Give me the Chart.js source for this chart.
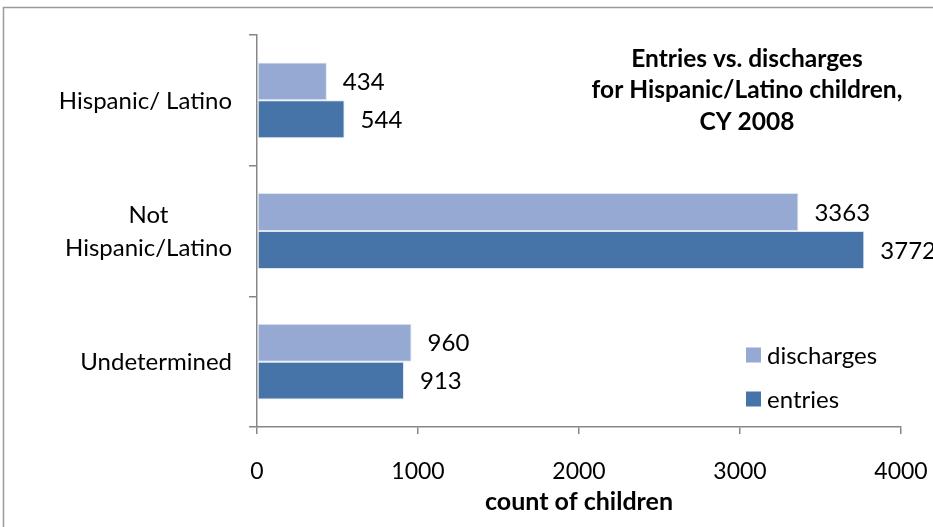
<!DOCTYPE html>
<html>
<head>
<meta charset="utf-8">
<script src="https://cdn.jsdelivr.net/npm/chart.js@4.4.1/dist/chart.umd.min.js"></script>
<style>
  html, body { margin: 0; padding: 0; background: #fff; }
  #wrap { width: 933px; height: 527px; position: relative; }
</style>
</head>
<body>
<div id="wrap"><canvas id="chart" width="933" height="527"></canvas></div>
<script>
const categories = [['Hispanic/ Latino'], ['Not', 'Hispanic/Latino'], ['Undetermined']];
const discharges = [434, 3363, 960];
const entries = [544, 3772, 913];
const xTicks = [0, 1000, 2000, 3000, 4000];
const titleLines = ['Entries vs. discharges', 'for Hispanic/Latino children,', 'CY 2008'];

const FONT = 'Lato, "Open Sans", sans-serif';
const axisGray = '#878787';

// value labels at the end of each bar
const valueLabels = {
  id: 'valueLabels',
  afterDatasetsDraw(chart) {
    const ctx = chart.ctx;
    ctx.save();
    ctx.font = '24px ' + FONT;
    ctx.fillStyle = '#000';
    ctx.textBaseline = 'middle';
    ctx.textAlign = 'left';
    chart.data.datasets.forEach((ds, i) => {
      chart.getDatasetMeta(i).data.forEach((bar, j) => {
        ctx.fillText(ds.data[j], bar.x + 16, bar.y + 1);
      });
    });
    ctx.restore();
  }
};

// category labels: block right aligned to the axis, lines centred inside the block (like Excel)
const categoryLabels = {
  id: 'categoryLabels',
  afterDraw(chart) {
    const ctx = chart.ctx;
    const scale = chart.scales.y;
    ctx.save();
    ctx.font = '24px ' + FONT;
    ctx.fillStyle = '#000';
    ctx.textAlign = 'center';
    ctx.textBaseline = 'middle';
    const right = scale.right - 25;
    const lineH = 33;
    chart.data.labels.forEach((lines, i) => {
      const y = scale.getPixelForTick(i);
      const w = Math.max(...lines.map(l => ctx.measureText(l).width));
      const cx = right - w / 2;
      const y0 = y - (lines.length - 1) * lineH / 2 + 1;
      lines.forEach((l, k) => ctx.fillText(l, cx, y0 + k * lineH));
    });
    ctx.restore();
  }
};

// title, legend and outer frame drawn inside the plot like the original
const decorations = {
  id: 'decorations',
  afterDraw(chart) {
    const ctx = chart.ctx;
    ctx.save();
    ctx.strokeStyle = '#9a9a9a';
    ctx.lineWidth = 1.5;
    ctx.strokeRect(3.5, 7.5, 1000, 1000);

    ctx.font = 'bold 24.5px ' + FONT;
    ctx.fillStyle = '#000';
    ctx.textAlign = 'center';
    ctx.textBaseline = 'middle';
    titleLines.forEach((t, i) => ctx.fillText(t, 747, 59 + i * 31.5));

    ctx.font = '24px ' + FONT;
    ctx.textAlign = 'left';
    chart.data.datasets.forEach((ds, i) => {
      const y = 355 + i * 44;
      ctx.fillStyle = ds.backgroundColor;
      ctx.fillRect(746, y - 7.5, 15, 15);
      ctx.fillStyle = '#000';
      ctx.fillText(ds.label, 767, y + 1);
    });
    ctx.restore();
  }
};

new Chart(document.getElementById('chart'), {
  type: 'bar',
  data: {
    labels: categories,
    datasets: [
      { label: 'discharges', data: discharges, backgroundColor: '#95a9d2', borderColor: '#dfe6f2', borderWidth: 1, borderSkipped: false },
      { label: 'entries', data: entries, backgroundColor: '#4674a9', borderColor: '#dfe6f2', borderWidth: 1, borderSkipped: false }
    ]
  },
  options: {
    indexAxis: 'y',
    responsive: false,
    animation: false,
    layout: { padding: { top: 35, right: 32, bottom: 8, left: 0 } },
    datasets: { bar: { categoryPercentage: 0.58, barPercentage: 1.0 } },
    plugins: {
      legend: { display: false },
      tooltip: { enabled: false }
    },
    scales: {
      x: {
        min: 0, max: 4000,
        afterBuildTicks(scale) { scale.ticks = xTicks.map(v => ({ value: v })); },
        afterFit(scale) { scale.height = 92; scale.paddingLeft = 0; scale.paddingRight = 0; },
        grid: { drawOnChartArea: false, tickLength: 7, color: axisGray, lineWidth: 1.5 },
        border: { color: axisGray, width: 1.5 },
        ticks: { color: '#000', font: { family: FONT, size: 23 }, padding: 24, maxRotation: 0, callback: v => String(v) },
        title: { display: true, text: 'count of children', color: '#000', font: { family: FONT, size: 25, weight: 'bold' }, padding: { top: 4, bottom: 2 } }
      },
      y: {
        afterFit(scale) { scale.width = 257; scale.paddingTop = 0; scale.paddingBottom = 0; },
        grid: { drawOnChartArea: false, tickLength: 8, color: axisGray, lineWidth: 1.5 },
        border: { color: axisGray, width: 1.5 },
        ticks: { display: false }
      }
    }
  },
  plugins: [valueLabels, categoryLabels, decorations]
});
</script>
</body>
</html>
